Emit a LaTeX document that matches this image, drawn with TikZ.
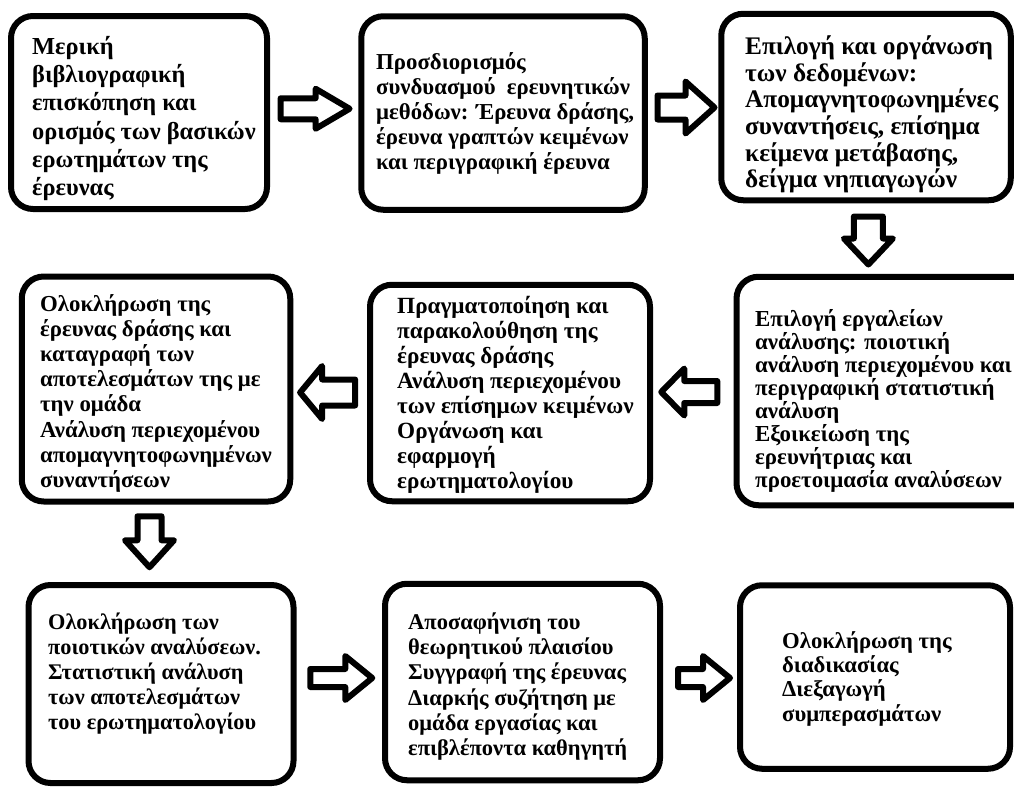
\documentclass[tikz,border=0pt]{standalone}
\usepackage{fontspec}
\setmainfont{Liberation Serif}
\usetikzlibrary{calc}

\tikzset{
  box/.style={draw, line width=6pt, rounded corners=22pt, fill=white, inner sep=0pt},
  txt/.style={anchor=north west, inner sep=0pt, align=left},
  arrowline/.style={draw, line width=6pt, line join=round, fill=white},
  % parameters of the hollow block arrows
  bl/.store in=\bal, bs/.store in=\bas, bh/.store in=\bah, bhl/.store in=\bahl,
  bl=60, bs=11, bh=24, bhl=27,
  pics/blockarrow/.style={code={
    \draw[arrowline] (-\bal/2,-\bas) -- (\bal/2-\bahl,-\bas) -- (\bal/2-\bahl,-\bah)
      -- (\bal/2,0) -- (\bal/2-\bahl,\bah) -- (\bal/2-\bahl,\bas) -- (-\bal/2,\bas) -- cycle;
  }}
}

\newcommand{\fs}[2]{\fontsize{#1}{#2}\selectfont\bfseries}

\begin{document}
\begin{tikzpicture}[x=1pt, y=-1pt]
\useasboundingbox (0,0) rectangle (1014,787);
\fill[white] (0,0) rectangle (1014,787);

% --- boxes ---
\node[box, minimum width=256pt,   minimum height=193pt]   (b1) at (139,112.5) {};
\node[box, minimum width=283.5pt, minimum height=193.5pt] (b2) at (503,113) {};
\node[box, minimum width=289.5pt, minimum height=186.5pt] (b3) at (866,107) {};
\node[box, minimum width=268.5pt, minimum height=225pt]   (b4) at (156,389) {};
\node[box, minimum width=280pt,   minimum height=216.5pt] (b5) at (510,393) {};
\node[box, minimum width=308.5pt, minimum height=228.5pt] (b6) at (890.75,391) {};
\node[box, minimum width=265pt,   minimum height=198pt]   (b7) at (161,684) {};
\node[box, minimum width=275pt,   minimum height=196.5pt] (b8) at (522.5,682) {};
\node[box, minimum width=270pt,   minimum height=183.5pt] (b9) at (875,677) {};

% --- texts ---
\node[txt, font=\fs{24.4}{28.3}] (t1) at (32,35.9) {Μερική\\βιβλιογραφική\\επισκόπηση και\\ορισμός των βασικών\\ερωτημάτων της\\έρευνας};
\node[txt, font=\fs{22.8}{25}] (t2) at (376,52) {Προσδιορισμός\\συνδυασμού\ \ ερευνητικών\\μεθόδων: Έρευνα δράσης,\\έρευνα γραπτών κειμένων\\και περιγραφική έρευνα};
\node[txt, font=\fs{25.3}{26.7}] (t3) at (745,35.3) {Επιλογή και οργάνωση\\των δεδομένων:\\Απομαγνητοφωνημένες\\συναντήσεις, επίσημα\\κείμενα μετάβασης,\\δείγμα νηπιαγωγών};
\node[txt, font=\fs{22.8}{25.2}] (t4) at (40,294) {Ολοκλήρωση της\\έρευνας δράσης και\\καταγραφή των\\αποτελεσμάτων της με\\την ομάδα\\Ανάλυση περιεχομένου\\απομαγνητοφωνημένων\\συναντήσεων};
\node[txt, font=\fs{23.2}{25}] (t5) at (397,295.8) {Πραγματοποίηση και\\παρακολούθηση της\\έρευνας δράσης\\Ανάλυση περιεχομένου\\των επίσημων κειμένων\\Οργάνωση και\\εφαρμογή\\ερωτηματολογίου};
\node[txt, font=\fs{22.9}{23.1}] (t6) at (755,309) {Επιλογή εργαλείων\\ανάλυσης: ποιοτική\\ανάλυση περιεχομένου και\\περιγραφική στατιστική\\ανάλυση\\Εξοικείωση της\\ερευνήτριας και\\προετοιμασία αναλύσεων};
\node[txt, font=\fs{22.3}{25}] (t7) at (48,612.4) {Ολοκλήρωση των\\ποιοτικών αναλύσεων.\\Στατιστική ανάλυση\\των αποτελεσμάτων\\του ερωτηματολογίου};
\node[txt, font=\fs{22.5}{25.3}] (t8) at (408,612.3) {Αποσαφήνιση του\\θεωρητικού πλαισίου\\Συγγραφή της έρευνας\\Διαρκής συζήτηση με\\ομάδα εργασίας και\\επιβλέποντα καθηγητή};
\node[txt, font=\fs{22.7}{24.4}] (t9) at (782,631.1) {Ολοκλήρωση της\\διαδικασίας\\Διεξαγωγή\\συμπερασμάτων};

% --- hollow block arrows between the steps ---
\pic[bl=69, bs=10.5, bh=20,   bhl=34] at ($(b1.east)!0.5!(b2.west)+(1,-4)$) {blockarrow};
\pic[bl=57, bs=12,   bh=26,   bhl=29] at ($(b2.east)!0.5!(b3.west)+(3,-2.5)$) {blockarrow};
\pic[rotate=-90, bl=48, bs=14.5, bh=24.5, bhl=26] at ($(b3.south)!0.5!(b6.north)+(-10,2)$) {blockarrow};
\pic[rotate=180, bl=56, bs=11,   bh=23.5, bhl=23] at ($(b6.west)!0.5!(b5.east)+(-4,0)$) {blockarrow};
\pic[rotate=180, bl=55, bs=13,   bh=26.5, bhl=22] at ($(b5.west)!0.5!(b4.east)+(-2.5,1.5)$) {blockarrow};
\pic[rotate=-90, bl=51, bs=12,   bh=24.5, bhl=27] at ($(b4.south)!0.5!(b7.north)+(-9,-1.5)$) {blockarrow};
\pic[bl=62, bs=9, bh=22, bhl=27] at ($(b7.east)!0.5!(b8.west)+(2,-5)$) {blockarrow};
\pic[bl=52, bs=9, bh=22, bhl=27] at ($(b8.east)!0.5!(b9.west)+(4,-1.5)$) {blockarrow};
\end{tikzpicture}
\end{document}
